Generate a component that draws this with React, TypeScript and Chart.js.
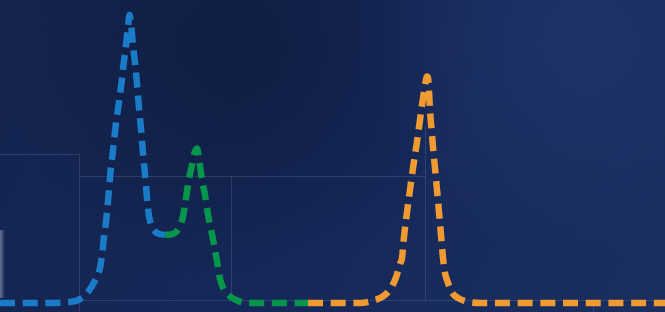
import React, { useEffect, useRef } from "react";
import { Chart, registerables } from "chart.js";

Chart.register(...registerables);

// Series (x in time units, y in signal units)
const blueX = [0, 8, 14, 16, 17.6, 19, 20, 20.4, 20.8, 21.2, 21.6, 22, 22.4, 22.8, 23.2, 23.8, 24.2, 24.6, 25.2, 25.6, 25.9, 26.2, 26.6, 27, 27.4, 27.8, 28.2, 28.6, 29, 29.4, 29.8, 30.4, 31.4, 33];
const blueY = [0, 0, 0.3, 1.3, 3.7, 7.5, 11.7, 16, 22, 27, 34, 42, 48, 54, 60, 67, 72, 78, 86, 92, 96, 93, 86, 80, 73, 65, 58, 50, 43, 35, 29, 25.5, 23.3, 22.7];

const greenX = [33, 34, 35, 35.8, 36.6, 37.2, 37.8, 38.4, 38.9, 39.4, 39.9, 40.4, 41, 41.6, 42.2, 42.8, 43.4, 44, 44.8, 46, 47.6, 49.6, 61.6];
const greenY = [22.7, 22.8, 23.4, 25, 28.8, 35, 41.5, 46, 50, 51.5, 47, 41, 36, 29.5, 24.5, 19.5, 14, 8, 4.5, 2.2, 0.7, 0, 0];

const orangeX = [61.6, 72, 74.4, 76.4, 78, 79.2, 80, 80.4, 80.8, 81.4, 82, 82.6, 83.3, 84, 84.4, 84.8, 85.1, 85.4, 85.7, 86, 86.3, 86.6, 87, 87.4, 87.8, 88.2, 88.6, 89, 89.4, 90.4, 91.6, 94, 96, 133];
const orangeY = [0, 0, 0.7, 2, 4.5, 8.5, 13, 15, 22, 30.3, 37.7, 45, 52.7, 61, 66, 70.5, 73.5, 75.5, 73.5, 64, 58, 52, 45, 37.7, 30.3, 22.7, 15, 10, 7.7, 3.5, 1.7, 0.3, 0, 0];

const X_MIN = 0;
const X_MAX = 133;
const Y_MIN = -3;
const Y_MAX = 101;

const toPoints = (xs: number[], ys: number[]) => xs.map((x, i) => ({ x, y: ys[i] }));

const backdrop = {
  id: "backdrop",
  beforeDraw(chart: any) {
    const { ctx, width, height } = chart;
    ctx.save();
    // base navy
    const lin = ctx.createLinearGradient(0, 0, width, height);
    lin.addColorStop(0, "#14244e");
    lin.addColorStop(0.5, "#16285a");
    lin.addColorStop(1, "#1a2e60");
    ctx.fillStyle = lin;
    ctx.fillRect(0, 0, width, height);
    // darker cloud upper-middle
    let rg = ctx.createRadialGradient(240, 50, 10, 240, 50, 240);
    rg.addColorStop(0, "rgba(8,18,42,0.45)");
    rg.addColorStop(1, "rgba(8,18,42,0)");
    ctx.fillStyle = rg;
    ctx.fillRect(0, 0, width, height);
    // lighter cloud upper-right
    rg = ctx.createRadialGradient(580, 40, 10, 580, 40, 220);
    rg.addColorStop(0, "rgba(36,60,112,0.45)");
    rg.addColorStop(1, "rgba(36,60,112,0)");
    ctx.fillStyle = rg;
    ctx.fillRect(0, 0, width, height);
    // faint glow at left edge
    const lg = ctx.createLinearGradient(0, 0, 5, 0);
    lg.addColorStop(0, "rgba(200,212,235,0.45)");
    lg.addColorStop(1, "rgba(200,212,235,0)");
    ctx.fillStyle = lg;
    ctx.fillRect(0, 230, 5, 68);
    // faint frame lines
    ctx.strokeStyle = "rgba(110,130,180,0.28)";
    ctx.lineWidth = 1;
    ctx.beginPath();
    ctx.moveTo(0, 154.5); ctx.lineTo(79.5, 154.5); ctx.lineTo(79.5, height);
    ctx.moveTo(79.5, 176.5); ctx.lineTo(425.5, 176.5);
    ctx.moveTo(231.5, 176.5); ctx.lineTo(231.5, 300.5);
    ctx.moveTo(425.5, 126); ctx.lineTo(425.5, 300.5);
    ctx.moveTo(79.5, 300.5); ctx.lineTo(width, 300.5);
    ctx.moveTo(593.5, 300.5); ctx.lineTo(593.5, height);
    ctx.stroke();
    ctx.restore();
  },
};

export default function App() {
  const ref = useRef<HTMLCanvasElement | null>(null);

  useEffect(() => {
    document.body.style.margin = "0";
    const canvas = ref.current;
    if (!canvas) return;
    const common = {
      borderWidth: 6.5,
      borderDash: [15, 7.7],
      borderCapStyle: "butt" as const,
      cubicInterpolationMode: "monotone" as const,
      pointRadius: 0,
      fill: false,
    };
    const chart = new Chart(canvas, {
      type: "line",
      data: {
        datasets: [
          { ...common, label: "A", data: toPoints(blueX, blueY), borderColor: "#1a7cc9" },
          { ...common, label: "B", data: toPoints(greenX, greenY), borderColor: "#06964b" },
          { ...common, label: "C", data: toPoints(orangeX, orangeY), borderColor: "#f09a32" },
        ],
      },
      options: {
        animation: false,
        responsive: false,
        maintainAspectRatio: false,
        layout: { padding: 0 },
        parsing: false as any,
        plugins: { legend: { display: false }, tooltip: { enabled: false } },
        scales: {
          x: { type: "linear", min: X_MIN, max: X_MAX, display: false },
          y: { type: "linear", min: Y_MIN, max: Y_MAX, display: false },
        },
      },
      plugins: [backdrop],
    });
    return () => chart.destroy();
  }, []);

  return (
    <div style={{ width: 665, height: 312 }}>
      <canvas ref={ref} width={665} height={312} style={{ display: "block" }} />
    </div>
  );
}
